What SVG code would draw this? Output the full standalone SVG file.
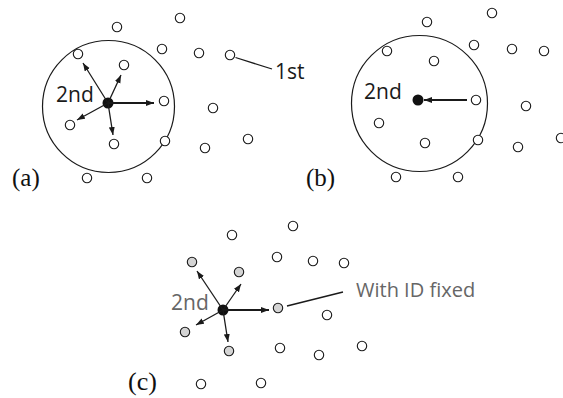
<svg xmlns="http://www.w3.org/2000/svg" width="563" height="398" viewBox="0 0 563 398">
<style>
.n{fill:#fff;stroke:#1a1a1a;stroke-width:1.1}
.g{fill:#d4d4d4;stroke:#1a1a1a;stroke-width:1.1}
.big{fill:none;stroke:#1a1a1a;stroke-width:1.2}
.dot{fill:#111}
.a{stroke:#1a1a1a;stroke-width:1.3;fill:none;marker-end:url(#ah)}
.a2{stroke:#1a1a1a;stroke-width:2;fill:none;marker-end:url(#ah)}
.ln{stroke:#1a1a1a;stroke-width:1.3;fill:none}
.lbl{font-family:"Open Sans","Liberation Sans",sans-serif;font-size:21px;fill:#1a1a1a}
.gl{font-family:"Open Sans","Liberation Sans",sans-serif;font-size:21px;fill:#666}
.cap{font-family:"Liberation Serif","Times New Roman",serif;font-size:25px;fill:#111}
</style>
<defs>
<marker id="ah" markerUnits="userSpaceOnUse" markerWidth="9" markerHeight="7" refX="8" refY="3" orient="auto">
<path d="M0,0 L8,3 L0,6 z" fill="#1a1a1a"/>
</marker>
</defs>

<g id="panel-a">
<circle class="big" cx="108.5" cy="106.5" r="66"/>
<g id="a-nodes">
<circle class="n" cx="180" cy="18" r="4.7"/>
<circle class="n" cx="117" cy="27" r="4.7"/>
<circle class="n" cx="162" cy="49" r="4.7"/>
<circle class="n" cx="199" cy="53" r="4.7"/>
<circle class="n" cx="230" cy="55" r="4.7"/>
<circle class="n" cx="78" cy="54" r="4.7"/>
<circle class="n" cx="124" cy="65" r="4.7"/>
<circle class="n" cx="164" cy="101" r="4.7"/>
<circle class="n" cx="213" cy="108" r="4.7"/>
<circle class="n" cx="70" cy="125" r="4.7"/>
<circle class="n" cx="114" cy="144" r="4.7"/>
<circle class="n" cx="165" cy="141" r="4.7"/>
<circle class="n" cx="205" cy="148" r="4.7"/>
<circle class="n" cx="248" cy="139" r="4.7"/>
<circle class="n" cx="87" cy="178" r="4.7"/>
<circle class="n" cx="147" cy="178" r="4.7"/>
</g>
<circle id="a-center" class="dot" cx="108" cy="103" r="5.5"/>
<text class="lbl" x="56" y="102">2nd</text>
<text class="lbl" x="275" y="79">1st</text>
<text class="cap" x="12" y="186">(a)</text>
</g>

<g id="panel-b">
<circle class="big" cx="419.5" cy="103.5" r="68"/>
<g id="b-nodes">
<circle class="n" cx="492" cy="13" r="4.7"/>
<circle class="n" cx="427" cy="22" r="4.7"/>
<circle class="n" cx="474" cy="45" r="4.7"/>
<circle class="n" cx="512" cy="49" r="4.7"/>
<circle class="n" cx="544" cy="51" r="4.7"/>
<circle class="n" cx="387" cy="51" r="4.7"/>
<circle class="n" cx="434" cy="61" r="4.7"/>
<circle class="n" cx="476" cy="100" r="4.7"/>
<circle class="n" cx="526" cy="106" r="4.7"/>
<circle class="n" cx="379" cy="123" r="4.7"/>
<circle class="n" cx="425" cy="143" r="4.7"/>
<circle class="n" cx="478" cy="140" r="4.7"/>
<circle class="n" cx="518" cy="147" r="4.7"/>
<circle class="n" cx="561" cy="138" r="4.7"/>
<circle class="n" cx="396" cy="177" r="4.7"/>
<circle class="n" cx="458" cy="177" r="4.7"/>
</g>
<circle id="b-center" class="dot" cx="418" cy="100" r="5.5"/>
<text class="lbl" x="364" y="99">2nd</text>
<text class="cap" x="306" y="186">(b)</text>
</g>

<g id="panel-c">
<g id="c-nodes">
<circle class="n" cx="293" cy="226" r="4.7"/>
<circle class="n" cx="232" cy="235" r="4.7"/>
<circle class="g" cx="192" cy="262" r="4.7"/>
<circle class="n" cx="277" cy="257" r="4.7"/>
<circle class="n" cx="313" cy="261" r="4.7"/>
<circle class="n" cx="344" cy="263" r="4.7"/>
<circle class="g" cx="239" cy="272" r="4.7"/>
<circle class="g" cx="278" cy="308" r="4.7"/>
<circle class="n" cx="327" cy="315" r="4.7"/>
<circle class="g" cx="185" cy="332" r="4.7"/>
<circle class="g" cx="229" cy="351" r="4.7"/>
<circle class="n" cx="280" cy="348" r="4.7"/>
<circle class="n" cx="319" cy="355" r="4.7"/>
<circle class="n" cx="362" cy="346" r="4.7"/>
<circle class="n" cx="201" cy="384" r="4.7"/>
<circle class="n" cx="261" cy="383" r="4.7"/>
</g>
<circle id="c-center" class="dot" cx="223" cy="310" r="5.5"/>
<text class="gl" x="171" y="310">2nd</text>
<text class="gl" x="356" y="297" style="font-size:20px">With ID fixed</text>
<text class="cap" x="128" y="390" style="font-size:26px">(c)</text>
</g>

<g id="connectors">
<line class="a" x1="108" y1="103" x2="83" y2="63"/>
<line class="a" x1="108" y1="103" x2="121" y2="75"/>
<line class="a2" x1="108" y1="103" x2="154" y2="103"/>
<line class="a" x1="108" y1="103" x2="77" y2="120"/>
<line class="a" x1="108" y1="103" x2="113" y2="135"/>
<line class="ln" x1="235.5" y1="57.5" x2="272" y2="69"/>
<line class="a2" x1="467" y1="100" x2="424" y2="100"/>
<line class="a" x1="223" y1="310" x2="197" y2="271"/>
<line class="a" x1="223" y1="310" x2="241" y2="284"/>
<line class="a2" x1="223" y1="310" x2="269" y2="310"/>
<line class="a" x1="223" y1="310" x2="196" y2="325"/>
<line class="a" x1="223" y1="310" x2="228" y2="342"/>
<line class="ln" x1="287" y1="306" x2="343" y2="292"/>
</g>
</svg>
